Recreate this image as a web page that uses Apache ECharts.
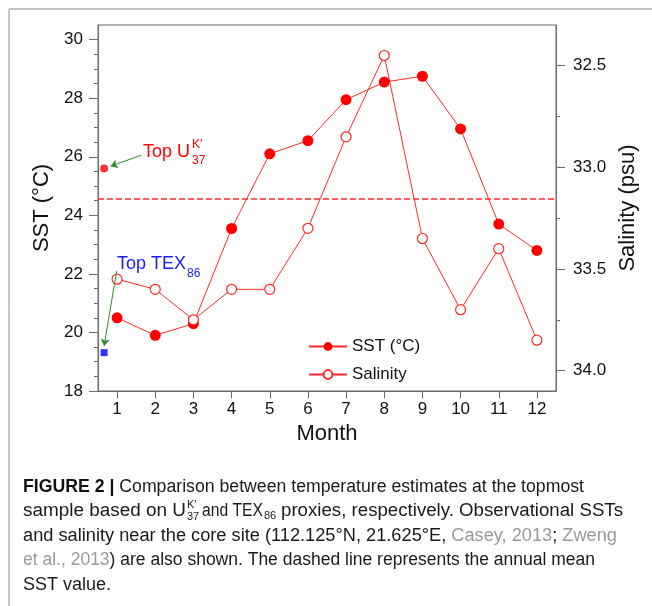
<!DOCTYPE html>
<html>
<head>
<meta charset="utf-8">
<script src="https://cdn.jsdelivr.net/npm/echarts@6/dist/echarts.min.js"></script>
<style>
  html, body { margin: 0; padding: 0; background: #fff; }
  #chart { width: 652px; height: 606px; }
</style>
</head>
<body>
<div id="chart"></div>
<script>
// monthly observations near the core site
const months = [1, 2, 3, 4, 5, 6, 7, 8, 9, 10, 11, 12]
const sst = [20.5, 19.9, 20.3, 23.55, 26.1, 26.55, 27.95, 28.55, 28.75, 26.95, 23.7, 22.8]
const salinity = [33.55, 33.6, 33.75, 33.6, 33.6, 33.3, 32.85, 32.45, 33.35, 33.7, 33.4, 33.85]
const meanSST = 24.55

// proxy estimates for the topmost sample [x, SST]
const topUk37 = [0.66, 25.6]
const topTex86 = [0.66, 19.31]

// annotation arrows [from, to]
const arrowUk = [[1.63, 26.05], [0.83, 25.68]]
const arrowTex = [[0.99, 22.1], [0.66, 19.54]]

// ticks
const sstTicks = [18, 20, 22, 24, 26, 28, 30]
const sstMinor = [18.5, 19, 19.5, 20.5, 21, 21.5, 22.5, 23, 23.5, 24.5, 25, 25.5, 26.5, 27, 27.5, 28.5, 29, 29.5]
const salTicks = [32.5, 33.0, 33.5, 34.0]
const salMinor = [32.75, 33.25, 33.75]

const FONT = 'Liberation Sans'
const RED = '#ff2a2a'
const AXIS = '#6a6a6a'

const chart = echarts.init(document.getElementById('chart'))

// caption helpers: measure text so each line fits the original width
const ctx = document.createElement('canvas').getContext('2d')
function measure(parts) {
  let w = 0
  parts.forEach(p => {
    ctx.font = (p[1] === 'b' ? 'bold ' : '') + '18px "' + FONT + '"'
    w += ctx.measureText(p[0]).width
  })
  return w
}
function captionLine(parts, x, y, right) {
  const text = parts.map(p => p[1] ? '{' + p[1] + '|' + p[0] + '}' : p[0]).join('')
  return {
    type: 'text', x: x, y: y, scaleX: right ? (right - x) / measure(parts) : 1,
    style: {
      text: text, font: '18px "' + FONT + '"', fill: '#1a1a1a',
      align: 'left', verticalAlign: 'middle',
      rich: {
        b: { font: 'bold 18px "' + FONT + '"', fill: '#111' },
        g: { font: '18px "' + FONT + '"', fill: '#9a9a9a' }
      }
    }
  }
}
function small(text, x, y, color, size) {
  return { type: 'text', x: x, y: y, style: { text: text, font: size + 'px "' + FONT + '"', fill: color, align: 'left', verticalAlign: 'middle' } }
}

const option = {
  animation: false,
  backgroundColor: '#fff',
  textStyle: { fontFamily: FONT },
  grid: { left: 98, top: 25, width: 458, height: 366, show: true, borderColor: AXIS, borderWidth: 1 },
  legend: {
    data: ['SST (°C)', 'Salinity'],
    orient: 'vertical', left: 303, top: 333,
    itemWidth: 38, itemHeight: 11, itemGap: 11,
    textStyle: { fontSize: 17, color: '#111', fontFamily: FONT }
  },
  xAxis: {
    type: 'value', min: 0.5, max: 12.5,
    name: 'Month', nameLocation: 'middle', nameGap: 30,
    nameTextStyle: { fontSize: 22, color: '#111' },
    axisLine: { lineStyle: { color: AXIS } },
    axisTick: { customValues: months, length: 7, lineStyle: { color: AXIS } },
    axisLabel: { customValues: months, fontSize: 17, color: '#111', margin: 10 },
    splitLine: { show: false }
  },
  yAxis: [
    {
      type: 'value', position: 'left', min: 18, max: 30.5,
      name: 'SST (°C)', nameLocation: 'middle', nameGap: 35, nameRotate: 90,
      nameTextStyle: { fontSize: 22, color: '#111' },
      axisLine: { show: true, lineStyle: { color: AXIS } },
      axisTick: { customValues: sstTicks, length: 9, lineStyle: { color: AXIS } },
      axisLabel: { customValues: sstTicks, fontSize: 17, color: '#111', margin: 15 },
      splitLine: { show: false }
    },
    {
      type: 'value', position: 'left', min: 18, max: 30.5,
      axisLine: { show: false },
      axisTick: { show: true, customValues: sstMinor, length: 4, lineStyle: { color: AXIS } },
      axisLabel: { show: false },
      splitLine: { show: false }
    },
    {
      type: 'value', position: 'right', min: 32.3, max: 34.1, inverse: true,
      name: 'Salinity (psu)', nameLocation: 'middle', nameGap: 46, nameRotate: 90,
      nameTextStyle: { fontSize: 22, color: '#111' },
      axisLine: { show: true, lineStyle: { color: AXIS } },
      axisTick: { customValues: salTicks, length: 9, lineStyle: { color: AXIS } },
      axisLabel: { customValues: salTicks, fontSize: 17, color: '#111', margin: 17, formatter: v => v.toFixed(1) },
      splitLine: { show: false }
    },
    {
      type: 'value', position: 'right', min: 32.3, max: 34.1, inverse: true,
      axisLine: { show: false },
      axisTick: { show: true, customValues: salMinor, length: 4, lineStyle: { color: AXIS } },
      axisLabel: { show: false },
      splitLine: { show: false }
    }
  ],
  series: [
    {
      name: 'SST (°C)', type: 'line', yAxisIndex: 0,
      data: months.map((m, i) => [m, sst[i]]),
      symbol: 'circle', symbolSize: 11,
      itemStyle: { color: '#ff0000' },
      lineStyle: { color: RED, width: 1 },
      // annual mean SST
      markLine: {
        silent: true, symbol: 'none', label: { show: false },
        lineStyle: { color: '#ff2a2a', type: 'dashed', width: 1.5 },
        emphasis: { disabled: true },
        data: [{ yAxis: meanSST }]
      }
    },
    {
      name: 'Salinity', type: 'line', yAxisIndex: 2,
      data: months.map((m, i) => [m, salinity[i]]),
      symbol: 'circle', symbolSize: 10,
      itemStyle: { color: '#fff', borderColor: RED, borderWidth: 1.2 },
      lineStyle: { color: RED, width: 1 }
    },
    {
      name: 'Top UK37', type: 'scatter', yAxisIndex: 0,
      data: [topUk37], symbol: 'circle', symbolSize: 8,
      itemStyle: { color: '#ff0000' },
      markLine: {
        silent: true, symbol: ['none', 'arrow'], symbolSize: 7, label: { show: false },
        lineStyle: { color: '#2e8b2e', type: 'solid', width: 1 },
        data: [
          [{ coord: arrowUk[0] }, { coord: arrowUk[1] }],
          [{ coord: arrowTex[0] }, { coord: arrowTex[1] }]
        ]
      }
    },
    {
      name: 'Top TEX86', type: 'scatter', yAxisIndex: 0,
      data: [topTex86], symbol: 'rect', symbolSize: 7,
      itemStyle: { color: '#0000ff' }
    }
  ],
  graphic: [
    // figure frame
    { type: 'line', shape: { x1: 9, y1: 9, x2: 652, y2: 9 }, style: { stroke: '#8a8a8a', lineWidth: 1 } },
    { type: 'line', shape: { x1: 9, y1: 9, x2: 9, y2: 606 }, style: { stroke: '#8a8a8a', lineWidth: 1 } },
    // annotations
    small('Top U', 143, 152, '#ff0000', 18),
    small('K′', 192, 145, '#ff0000', 12),
    small('37', 192, 161, '#ff0000', 12),
    small('Top TEX', 117, 264, '#1a1aff', 18),
    small('86', 187, 274, '#1a1aff', 12),
    // caption
    captionLine([['FIGURE 2 |', 'b'], [' Comparison between temperature estimates at the topmost']], 23, 487, 584),
    captionLine([['sample based on U']], 23, 511, 186),
    small('K′', 187, 505, '#1a1a1a', 11),
    small('37', 187, 517, '#1a1a1a', 11),
    captionLine([['and TEX']], 202, 511, 263),
    small('86', 264, 516, '#1a1a1a', 11),
    captionLine([['proxies, respectively. Observational SSTs']], 281, 511, 623),
    captionLine([['and salinity near the core site (112.125°N, 21.625°E, '], ['Casey, 2013', 'g'], ['; '], ['Zweng', 'g']], 23, 536, 617),
    captionLine([['et al., 2013', 'g'], [') are also shown. The dashed line represents the annual mean']], 23, 560, 595),
    captionLine([['SST value.']], 23, 585, 0)
  ]
}

chart.setOption(option)
</script>
</body>
</html>
